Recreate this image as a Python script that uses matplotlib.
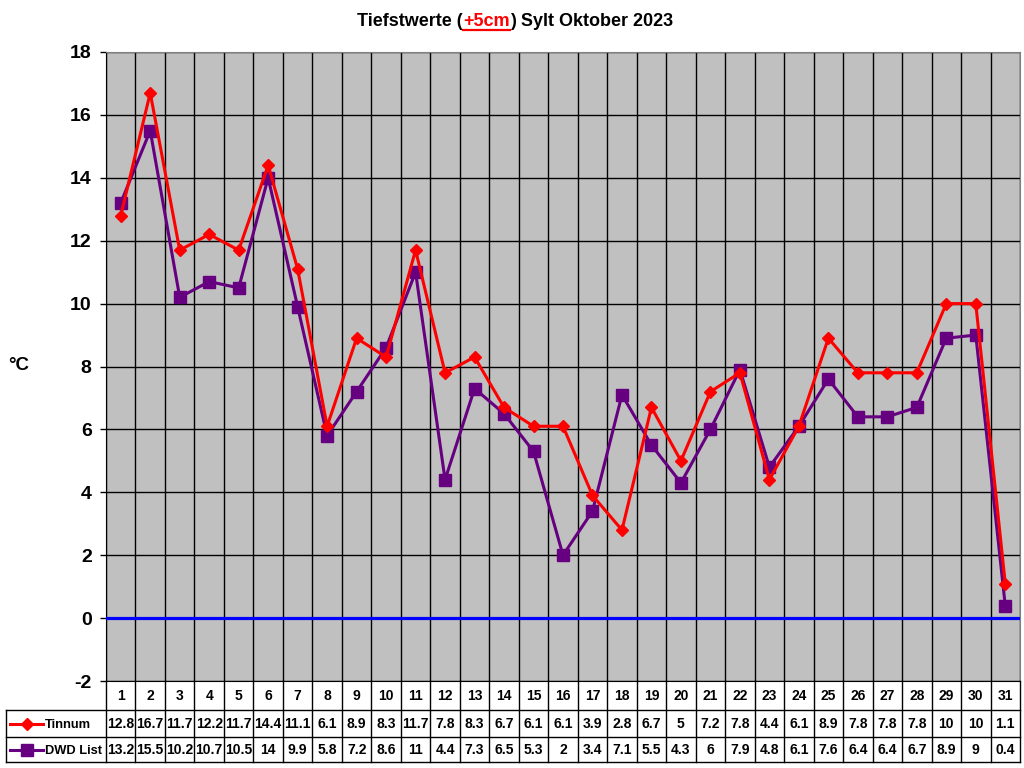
import numpy as np
import matplotlib
matplotlib.use("Agg")
import matplotlib.pyplot as plt
from matplotlib import transforms

days = list(range(1, 32))
tinnum = [12.8, 16.7, 11.7, 12.2, 11.7, 14.4, 11.1, 6.1, 8.9, 8.3, 11.7, 7.8, 8.3, 6.7, 6.1, 6.1,
          3.9, 2.8, 6.7, 5, 7.2, 7.8, 4.4, 6.1, 8.9, 7.8, 7.8, 7.8, 10, 10, 1.1]
dwd = [13.2, 15.5, 10.2, 10.7, 10.5, 14, 9.9, 5.8, 7.2, 8.6, 11, 4.4, 7.3, 6.5, 5.3, 2,
       3.4, 7.1, 5.5, 4.3, 6, 7.9, 4.8, 6.1, 7.6, 6.4, 6.4, 6.7, 8.9, 9, 0.4]
series_names = ["Tinnum", "DWD List"]
title_parts = ["Tiefstwerte (", "+5cm", ") Sylt Oktober 2023"]

plt.rcParams['font.family'] = ['Liberation Sans', 'DejaVu Sans']
plt.rcParams['font.weight'] = 'bold'
plt.rcParams['axes.unicode_minus'] = False

W, H = 1024, 768
fig = plt.figure(figsize=(W / 100, H / 100), dpi=100)

# plot area in pixels
px0, px1, py_top, py_bot = 106, 1020, 52, 681
ax = fig.add_axes([px0 / W, 1 - py_bot / H, (px1 - px0) / W, (py_bot - py_top) / H])
ax.set_facecolor('#C0C0C0')

red = '#FF0000'
purple = '#660080'

ax.plot(days, dwd, color=purple, lw=2.2, marker='s', ms=8.5, zorder=4)
ax.plot(days, tinnum, color=red, lw=2.2, marker='D', ms=6.0, zorder=5)
ax.axhline(0, color='#0000FF', lw=2.3, zorder=3)

ax.set_xlim(0.5, 31.5)
ax.set_ylim(-2, 18)
ax.set_yticks(np.arange(-2, 19, 2))
ax.set_xticks(np.arange(0.5, 32, 1))
ax.set_xticklabels([])
ax.tick_params(axis='x', length=0)
ax.tick_params(axis='y', length=4.3, width=1, pad=6, labelsize=14)
for lab in ax.get_yticklabels():
    lab.set_fontweight('bold')
ax.grid(True, color='black', lw=1)
ax.set_axisbelow(True)
ax.spines['left'].set_color('black')
ax.spines['bottom'].set_color('black')
ax.spines['top'].set_color('#808080')
ax.spines['right'].set_color('#808080')

fig.text(8 / W, 1 - 366 / H, '°C', fontsize=13.5, fontweight='bold', ha='left', va='center')

# overlay axes in pixel coordinates for table and title
tab = fig.add_axes([0, 0, 1, 1], zorder=10)
tab.set_xlim(0, W)
tab.set_ylim(H, 0)
tab.axis('off')
tab.patch.set_alpha(0)
blend = transforms.blended_transform_factory(ax.transData, tab.transData)

r0, r1, r2, r3 = 681, 710, 737, 762
lk = dict(color='black', lw=1)
# column boundaries
for b in np.arange(0.5, 32, 1):
    tab.plot([b, b], [r0, r3], transform=blend, **lk)
tab.plot([6, 6], [r1, r3], **lk)
for yy in (r1, r2, r3):
    tab.plot([6, 1020], [yy, yy], **lk)

fs = 10
for d in days:
    tab.text(d, (r0 + r1) / 2 + 1, str(d), transform=blend, ha='center', va='center',
             fontsize=fs, fontweight='bold')
for row, nxt, vals in ((r1, r2, tinnum), (r2, r3, dwd)):
    yc = (row + nxt) / 2 + 1
    for d, v in zip(days, vals):
        tab.text(d, yc, f"{v:g}", transform=blend, ha='center', va='center',
                 fontsize=fs, fontweight='bold')

# legend keys
for (yc, name, col, mk, ms) in (((r1 + r2) / 2, series_names[0], red, 'D', 6.0),
                               ((r2 + r3) / 2, series_names[1], purple, 's', 8.0)):
    tab.plot([10, 43], [yc, yc], color=col, lw=2.2)
    tab.plot([27], [yc], color=col, marker=mk, ms=ms, lw=0)
    tab.text(45, yc + 1, name, ha='left', va='center', fontsize=9.3, fontweight='bold')

# title with coloured part
fig.canvas.draw()
renderer = fig.canvas.get_renderer()
ty = 20
pieces = []
x = 0
for i, part in enumerate(title_parts):
    t = tab.text(x, ty, part, ha='left', va='baseline', fontsize=13, fontweight='bold',
                 color=red if i == 1 else 'black')
    pieces.append(t)
    x += t.get_window_extent(renderer).width
total = x
x = 515 - total / 2
ty_base = 26
for i, t in enumerate(pieces):
    t.set_x(x)
    t.set_y(ty_base)
    w = t.get_window_extent(renderer).width
    if i == 1:
        tab.plot([x, x + w], [ty_base + 4, ty_base + 4], color=red, lw=1.6)
    x += w

fig.savefig('out.png', dpi=100)
